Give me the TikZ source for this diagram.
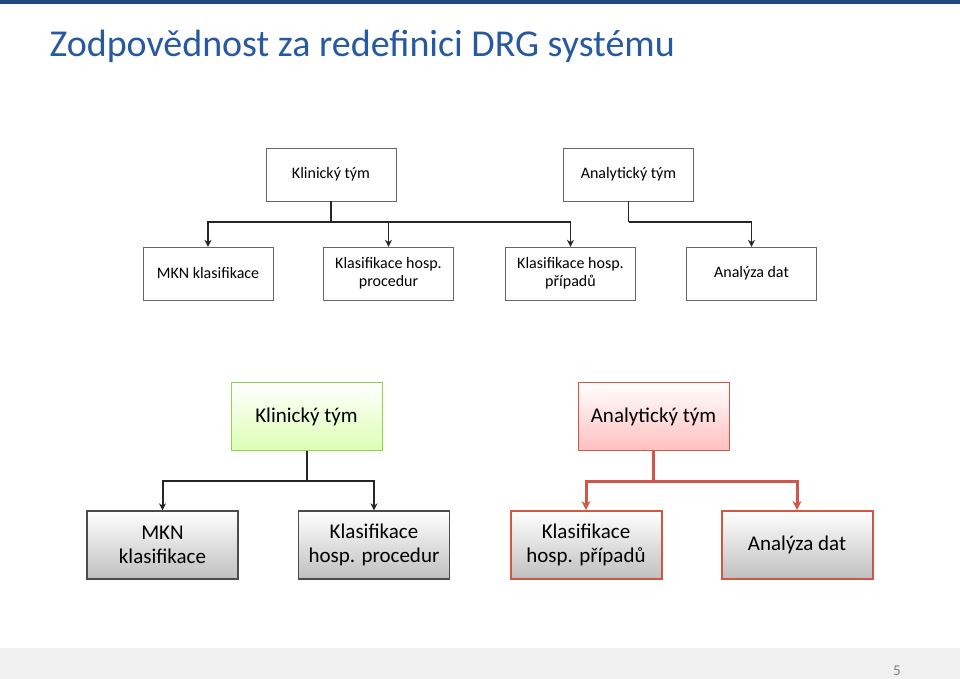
\documentclass[tikz,border=0pt]{standalone}
\usepackage{fontspec}
\setmainfont{Carlito}
\usetikzlibrary{arrows.meta, positioning}
\definecolor{titleblue}{RGB}{39, 89, 160}
\definecolor{barblue}{RGB}{31, 73, 125}
\definecolor{redline}{RGB}{208, 86, 70}
\definecolor{greenline}{RGB}{146, 208, 80}
\begin{document}
\begin{tikzpicture}[x=1pt, y=-1pt,
		smallbox/.style={draw=black!60, fill=white, minimum width=130pt, minimum height=53pt, align=center, font=\fontsize{16}{18}\selectfont, inner sep=2pt},
		bigbox/.style={draw=black!70, line width=1.4pt, minimum width=151pt, minimum height=68pt, align=center, font=\fontsize{21}{24}\selectfont, inner sep=2pt, top color=white, bottom color=black!25},
		redbox/.style={bigbox, draw=redline, line width=2pt},
		link/.style={black!85, line width=1.2pt, -{Stealth[open, length=7pt, width=7pt]}},
		redlink/.style={redline, line width=3pt, -{Stealth[open, length=9pt, width=9pt]}}
	]
	\useasboundingbox (0,0) rectangle (960,679);
	% Background and frame
	\fill[barblue] (0,0) rectangle (960,4);
	\fill[black!6] (0,648) rectangle (960,679);
	\node[text=black!50, font=\fontsize{15}{17}\selectfont] (page) at (897,671) {5};
	\node[anchor=west, text=titleblue, font=\fontsize{38}{42}\selectfont] (title) at (46,46) {Zodpovědnost za redefinici DRG systému};

	% Upper chart
	\node[smallbox] (klin) at (331,174.5) {Klinický tým};
	\node[smallbox] (anal) at (628.5,174.5) {Analytický tým};
	\node[smallbox] (mkn) at (208,273.5) {MKN klasifikace};
	\node[smallbox] (proc) at (388.5,273.5) {Klasifikace hosp.\\procedur};
	\node[smallbox] (prip) at (570.5,273.5) {Klasifikace hosp.\\případů};
	\node[smallbox] (dat) at (751.5,273.5) {Analýza dat};
	\coordinate (kj) at (331,222);
	\coordinate (aj) at (628.5,222);
	\draw[black!85, line width=1.2pt] (klin.south) -- (kj);
	\draw[black!85, line width=1.2pt] (anal.south) -- (aj);
	\draw[link] (kj) -| (mkn.north);
	\draw[link] (kj) -| (proc.north);
	\draw[link] (kj) -| (prip.north);
	\draw[link] (aj) -| (dat.north);

	% Lower chart
	\node[bigbox, draw=greenline, line width=0.8pt, top color=white, bottom color=green!25!lime!30] (klin2) at (306.5,416.5) {Klinický tým};
	\node[bigbox, draw=redline, line width=0.8pt, top color=white, bottom color=red!25] (anal2) at (653.5,416.5) {Analytický tým};
	\node[bigbox] (mkn2) at (162.5,545) {MKN\\klasifikace};
	\node[bigbox] (proc2) at (374,545) {Klasifikace\\hosp. procedur};
	\node[redbox] (prip2) at (586,545) {Klasifikace\\hosp. případů};
	\node[redbox] (dat2) at (797,545) {Analýza dat};
	\coordinate (kj2) at (306.5,481);
	\coordinate (aj2) at (653.5,481);
	\draw[black!85, line width=2pt] (klin2.south) -- (kj2);
	\draw[link, line width=2pt] (kj2) -| (mkn2.north);
	\draw[link, line width=2pt] (kj2) -| (proc2.north);
	\draw[redline, line width=3pt] (anal2.south) -- (aj2);
	\draw[redlink] (aj2) -| (prip2.north);
	\draw[redlink] (aj2) -| (dat2.north);
\end{tikzpicture}
\end{document}
